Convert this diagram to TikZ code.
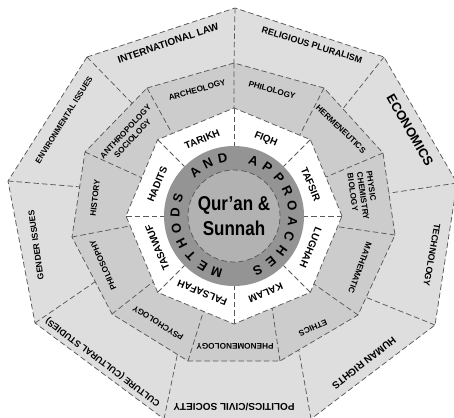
\documentclass[tikz,border=0pt]{standalone}
\usepackage{fontspec}
\setmainfont{Liberation Sans}
\newfontfamily\narrowfont[FakeStretch=0.85]{Liberation Sans}
\usetikzlibrary{calc}

\definecolor{outerfill}{gray}{0.87}
\definecolor{midfill}{gray}{0.80}
\definecolor{ringfill}{gray}{0.58}
\definecolor{corefill}{gray}{0.70}

\tikzset{
    seam/.style={draw=black!65, line width=0.75pt, dash pattern=on 5.5pt off 3pt},
    outerlbl/.style={font=\bfseries\fontsize{9}{10}\selectfont, inner sep=0pt},
    midlbl/.style={font=\bfseries\fontsize{8.2}{9.6}\selectfont, inner sep=0pt},
    innerlbl/.style={font=\bfseries\fontsize{10}{11}\selectfont, inner sep=0pt},
    ringlbl/.style={font=\bfseries\fontsize{13}{13}\selectfont, inner sep=0pt},
}

\begin{document}
\begin{tikzpicture}[x=1pt,y=1pt]
    \useasboundingbox (0,0) rectangle (454,-417);
    \clip (0,0) rectangle (454,-417);
    \coordinate (c) at (234,-216);

    % outer ring
    \coordinate (o1) at (87,-57);
    \coordinate (o2) at (235,-8);
    \coordinate (o3) at (384,-57);
    \coordinate (o4) at (457,-183);
    \coordinate (o5) at (435,-325);
    \coordinate (o6) at (311,-419);
    \coordinate (o7) at (164,-419);
    \coordinate (o8) at (35,-323);
    \coordinate (o9) at (8,-181);
    \filldraw[seam, fill=outerfill] (o1) -- (o2) -- (o3) -- (o4) -- (o5) -- (o6) -- (o7) -- (o8) -- (o9) -- cycle;

    % middle ring
    \coordinate (m1) at (147,-88);
    \coordinate (m2) at (234,-63);
    \coordinate (m3) at (324,-88);
    \coordinate (m4) at (383,-153);
    \coordinate (m5) at (395,-235);
    \coordinate (m6) at (358,-315);
    \coordinate (m7) at (280,-361);
    \coordinate (m8) at (188,-361);
    \coordinate (m9) at (112,-314);
    \coordinate (m10) at (72,-237);
    \coordinate (m11) at (85,-152);
    \filldraw[seam, fill=midfill] (m1) -- (m2) -- (m3) -- (m4) -- (m5) -- (m6) -- (m7) -- (m8) -- (m9) -- (m10) -- (m11) -- cycle;

    % white octagon
    \foreach \k in {0,...,7}
        \coordinate (w\k) at ($(c)+(45*\k:108)$);
    \filldraw[seam, fill=white] (w0) -- (w1) -- (w2) -- (w3) -- (w4) -- (w5) -- (w6) -- (w7) -- cycle;

    % seams of the outer ring
    \draw[seam] (o1) -- ($(m1)!0.24!(m11)$)
        (o2) -- (m2)
        (o3) -- ($(m3)!0.32!(m4)$)
        (o4) -- ($(m4)!0.49!(m5)$)
        (o5) -- ($(m5)!0.78!(m6)$)
        (o6) -- ($(m6)!0.76!(m7)$)
        (o7) -- ($(m8)!0.14!(m9)$)
        (o8) -- ($(m9)!0.42!(m10)$)
        (o9) -- ($(m10)!0.59!(m11)$);

    % seams of the middle ring
    \draw[seam] (m1) -- ($(w2)!0.81!(w3)$)
        (m2) -- (w2)
        (m3) -- ($(w1)!0.14!(w2)$)
        (m4) -- ($(w0)!0.51!(w1)$)
        (m5) -- ($(w7)!0.86!(w0)$)
        (m6) -- ($(w7)!0.11!(w0)$)
        (m7) -- ($(w6)!0.5!(w7)$)
        (m8) -- ($(w5)!0.6!(w6)$)
        (m9) -- ($(w4)!0.86!(w5)$)
        (m10) -- ($(w4)!0.13!(w5)$)
        (m11) -- ($(w3)!0.5!(w4)$);

    % seams of the white ring
    \foreach \k in {0,...,7}
        \draw[seam] (w\k) -- ($(c)+(45*\k:70)$);

    % disc
    \fill[ringfill] (c) circle (70);
    \filldraw[seam, fill=corefill] (c) circle (46);
    \node (core) [font=\narrowfont\bfseries\fontsize{20}{25}\selectfont, align=center] at (c) {Qur’an \&\\Sunnah};

    % methods and approaches
    \foreach \ch [count=\i] in {M,E,T,H,O,D,S,{},A,N,D,{},A,P,P,R,O,A,C,H,E,S} {
        \pgfmathsetmacro\ang{253-(\i-1)*15.2}
        \node (ch\i) [ringlbl, rotate=\ang-90] at ($(c)+(\ang:59)$) {\ch};
    }

    % inner ring
    \foreach \lbl/\ang in {FIQH/67.5, TAFSIR/22.5, LUGHAH/-22.5, KALAM/-67.5, FALSAFAH/-112.5, TASAWUF/-157.5, HADITS/157.5, TARIKH/112.5}
        \node (\lbl) [innerlbl, rotate=\ang-90] at ($(c)+(\ang:83)$) {\lbl};

    % middle ring
    \node (archeology) [midlbl, rotate=16] at (197,-90) {ARCHEOLOGY};
    \node (philology) [midlbl, rotate=-16] at (272,-90) {PHILOLOGY};
    \node (hermeneutics) [midlbl, rotate=-44] at (341,-129) {HERMENEUTICS};
    \node (physic) [midlbl, rotate=-82, align=left] at (363,-196) {PHYSIC\\CHEMISTRY\\BIOLOGY};
    \node (mathematic) [midlbl, rotate=-110] at (360,-268) {MATHEMATIC};
    \node (ethics) [midlbl, rotate=-157] at (313,-328) {ETHICS};
    \node (phenomenology) [midlbl, rotate=180] at (235,-346) {PHENOMENOLOGY};
    \node (psychology) [midlbl, rotate=148] at (158,-323) {PSYCHOLOGY};
    \node (philosophy) [midlbl, rotate=114] at (103,-265) {PHILOSOPHY};
    \node (history) [midlbl, rotate=83] at (95,-198) {HISTORY};
    \node (anthropology) [midlbl, rotate=47, align=center] at (129,-135) {ANTHROPOLOGY\\SOCIOLOGY};

    % outer ring
    \node (intlaw) [outerlbl, font=\bfseries\fontsize{10}{11}\selectfont, rotate=19] at (168,-43) {INTERNATIONAL LAW};
    \node (pluralism) [outerlbl, rotate=-17] at (312,-45) {RELIGIOUS PLURALISM};
    \node (economics) [outerlbl, font=\bfseries\fontsize{13}{14}\selectfont, rotate=-60] at (410,-130) {ECONOMICS};
    \node (technology) [outerlbl, rotate=-100] at (432,-255) {TECHNOLOGY};
    \node (rights) [outerlbl, font=\bfseries\fontsize{10}{11}\selectfont, rotate=-142] at (364,-363) {HUMAN RIGHTS};
    \node (politics) [outerlbl, font=\bfseries\fontsize{10}{11}\selectfont, rotate=180] at (234,-407) {POLITICS/CIVIL SOCIETY};
    \node (culture) [outerlbl, rotate=143] at (103,-362) {CULTURE (CULTURAL STUDIES)};
    \node (gender) [outerlbl, font=\bfseries\fontsize{8.5}{10}\selectfont, rotate=98] at (36,-245) {GENDER ISSUES};
    \node (environment) [outerlbl, font=\bfseries\fontsize{8}{9}\selectfont, rotate=58] at (64,-120) {ENVIRONMENTAL ISSUES};
\end{tikzpicture}
\end{document}
